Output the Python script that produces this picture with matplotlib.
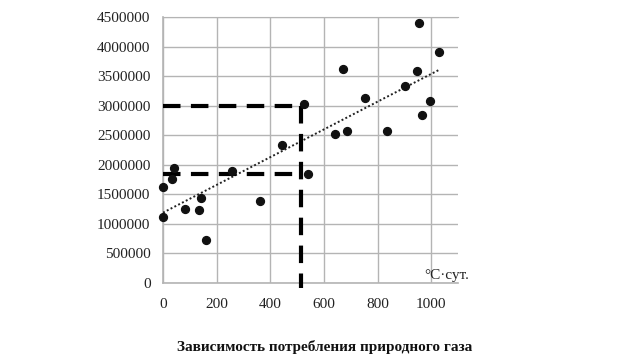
import matplotlib
matplotlib.use("Agg")
import matplotlib.pyplot as plt

# degree-days vs gas consumption
degree_days = [0, 0, 32, 41, 83, 133, 142, 159, 259, 362, 444, 524, 539,
               643, 670, 685, 755, 836, 904, 947, 956, 964, 996, 1031]
gas_use = [1630000, 1120000, 1754000, 1940000, 1247000, 1230000, 1443000, 727000,
           1900000, 1392000, 2335000, 3023000, 1844000, 2515000, 3626000, 2566000,
           3124000, 2566000, 3338000, 3586000, 4404000, 2842000, 3084000, 3903000]

trend_x = [0, 1027]
trend_y = [1190000, 3600000]

# guide lines
guide_x = 515
guide_low = 1850000
guide_high = 3000000

x_ticks = [0, 200, 400, 600, 800, 1000]
y_ticks = [0, 500000, 1000000, 1500000, 2000000, 2500000, 3000000, 3500000, 4000000, 4500000]

plt.rcParams["font.family"] = ["Liberation Serif", "DejaVu Serif"]

fig = plt.figure(figsize=(6.4, 3.6), dpi=100)
ax = fig.add_axes([0.2547, 0.2139, 0.4609, 0.7389])

grid_c = "#b4b4b4"
ax.set_xlim(0, 1100)
ax.set_ylim(0, 4500000)
ax.set_xticks(x_ticks)
ax.set_yticks(y_ticks)
ax.set_xticklabels([str(v) for v in x_ticks])
ax.set_yticklabels([str(v) for v in y_ticks])
ax.grid(True, color=grid_c, linewidth=1.0)
ax.set_axisbelow(True)
ax.spines["right"].set_visible(False)
for s in ["top", "left", "bottom"]:
    ax.spines[s].set_color(grid_c)
ax.spines["left"].set_linewidth(1.2)
ax.spines["bottom"].set_linewidth(1.2)
ax.tick_params(length=0, labelsize=11, colors="#222222")
ax.tick_params(axis="y", pad=9)
ax.tick_params(axis="x", pad=11)

ax.plot(trend_x, trend_y, linestyle=(0, (1, 1.2)), color="#222222", linewidth=1.4, zorder=3)

dash = (0, (4.2, 2.5))
ax.plot([0, guide_x], [guide_high, guide_high], color="black", linewidth=3, linestyle=dash,
        zorder=4, clip_on=False)
ax.plot([0, guide_x], [guide_low, guide_low], color="black", linewidth=3, linestyle=dash,
        zorder=4, clip_on=False)
ax.plot([guide_x, guide_x], [guide_high, -80000], color="black", linewidth=3, linestyle=dash,
        zorder=4, clip_on=False)

ax.scatter(degree_days, gas_use, s=32, color="#111111", zorder=5, clip_on=False)

ax.text(975, 130000, "°C·сут.", fontsize=11, ha="left", va="center", color="#222222",
        clip_on=False)

fig.text(0.508, 0.037, "Зависимость потребления природного газа", ha="center", va="center",
         fontsize=11, fontweight="bold", color="#111111")

fig.savefig("out.png", dpi=100)
